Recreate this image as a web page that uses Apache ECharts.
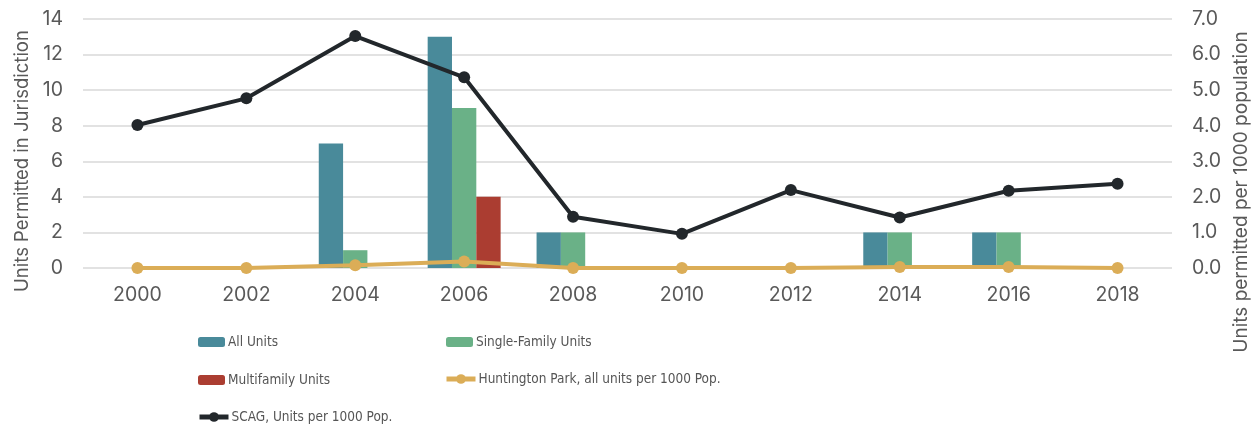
<!DOCTYPE html>
<html>
<head>
<meta charset="utf-8">
<script src="https://cdn.jsdelivr.net/npm/echarts@6/dist/echarts.min.js"></script>
<style>
html,body{margin:0;padding:0;background:#fff;}
#chart{width:1260px;height:432px;}
</style>
</head>
<body>
<div id="chart"></div>
<script>
const years = ['2000','2002','2004','2006','2008','2010','2012','2014','2016','2018'];
const allUnits = [0, 0, 7, 13, 2, 0, 0, 2, 2, 0];
const singleFamily = [0, 0, 1, 9, 2, 0, 0, 2, 2, 0];
const multifamily = [0, 0, 0, 4, 0, 0, 0, 0, 0, 0];
const huntingtonPark = [0, 0, 0.08, 0.18, 0, 0, 0, 0.03, 0.03, 0];
const scag = [4.02, 4.77, 6.52, 5.36, 1.44, 0.96, 2.19, 1.42, 2.17, 2.37];
const leftTicks = [0, 14, 2];
const rightTicks = [0, 7, 1];

const FONT = 'Inter';
const NARROW = "'DejaVu Sans Condensed', 'Liberation Sans Narrow', sans-serif";
const TXT = '#595959';
const C = {all:'#498a9a', sf:'#6ab187', mf:'#ab3d31', hp:'#dbad57', scag:'#22272b'};

const chart = echarts.init(document.getElementById('chart'), null, {renderer:'canvas'});

function leg(name, left, top, isLine){
  const o = {
    data:[name], left:left, top:top, itemWidth:isLine?29:27, itemHeight:isLine?12:10, itemGap:0,
    padding:0,
    textStyle:{fontFamily:NARROW, fontSize:13.5, color:'#555555', padding:[0,0,0,-2]},
    selectedMode:false
  };
  if(isLine){ o.lineStyle = {width:5}; }
  return o;
}

chart.setOption({
  animation:false,
  textStyle:{fontFamily:FONT},
  grid:{left:83, right:88, top:19, bottom:164, containLabel:false},
  legend:[
    leg('All Units', 198, 335),
    leg('Single-Family Units', 446, 335),
    leg('Multifamily Units', 198, 373),
    leg('Huntington Park, all units per 1000 Pop.', 444, 372, true),
    leg('SCAG, Units per 1000 Pop.', 197, 410, true)
  ],
  xAxis:{
    type:'category', data:years, boundaryGap:true,
    axisLine:{show:false}, axisTick:{show:false},
    axisLabel:{color:TXT, fontFamily:FONT, fontSize:19.5, margin:17}
  },
  yAxis:[
    {
      type:'value', min:leftTicks[0], max:leftTicks[1], interval:leftTicks[2],
      axisLine:{show:false}, axisTick:{show:false},
      axisLabel:{color:TXT, fontFamily:FONT, fontSize:19.5, margin:20},
      splitLine:{lineStyle:{color:'#d9d9d9', width:1.5}}
    },
    {
      type:'value', min:rightTicks[0], max:rightTicks[1], interval:rightTicks[2],
      axisLine:{show:false}, axisTick:{show:false},
      axisLabel:{color:TXT, fontFamily:FONT, fontSize:19.5, margin:20, formatter:v=>v.toFixed(1)},
      splitLine:{show:false}
    }
  ],
  graphic:[
    {type:'text', x:22, y:161, rotation:Math.PI/2, style:{text:'Units Permitted in Jurisdiction', fill:TXT, font:'18.5px '+FONT, align:'center', verticalAlign:'middle'}},
    {type:'text', x:1241, y:192, rotation:Math.PI/2, style:{text:'Units permitted per 1000 population', fill:TXT, font:'19px '+FONT, align:'center', verticalAlign:'middle'}}
  ],
  series:[
    {name:'All Units', type:'bar', data:allUnits, yAxisIndex:0, barGap:'0%', barCategoryGap:'33%', itemStyle:{color:C.all}},
    {name:'Single-Family Units', type:'bar', data:singleFamily, yAxisIndex:0, barGap:'0%', barCategoryGap:'33%', itemStyle:{color:C.sf}},
    {name:'Multifamily Units', type:'bar', data:multifamily, yAxisIndex:0, barGap:'0%', barCategoryGap:'33%', itemStyle:{color:C.mf}},
    {name:'Huntington Park, all units per 1000 Pop.', type:'line', data:huntingtonPark, yAxisIndex:1,
      symbol:'circle', symbolSize:12, lineStyle:{color:C.hp, width:4}, itemStyle:{color:C.hp}, z:5},
    {name:'SCAG, Units per 1000 Pop.', type:'line', data:scag, yAxisIndex:1,
      symbol:'circle', symbolSize:12, lineStyle:{color:C.scag, width:4}, itemStyle:{color:C.scag}, z:6}
  ]
});
</script>
</body>
</html>
